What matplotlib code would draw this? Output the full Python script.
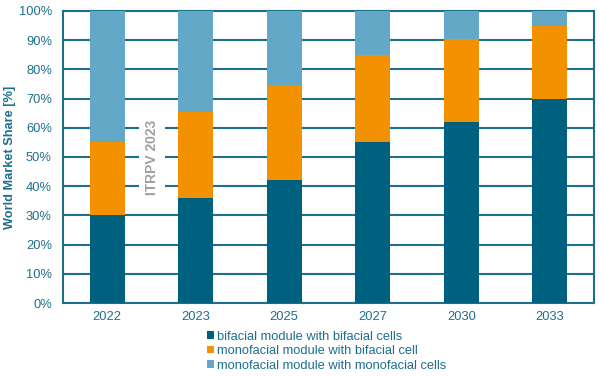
import matplotlib
matplotlib.use("Agg")
import matplotlib.pyplot as plt
import numpy as np

years = ["2022", "2023", "2025", "2027", "2030", "2033"]
bifacial_bifacial = [30, 36, 42, 55, 62, 70]
monofacial_bifacial = [25, 29.5, 32.5, 30, 28.5, 25]
monofacial_monofacial = [45, 34.5, 25.5, 15, 9.5, 5]
labels = ["bifacial module with bifacial cells",
          "monofacial module with bifacial cell",
          "monofacial module with monofacial cells"]
colors = ["#00617f", "#f39100", "#64a8c8"]
teal = "#1d6f8c"

plt.rcParams['font.family'] = ['Liberation Sans', 'DejaVu Sans']

fig = plt.figure(figsize=(6, 3.76), dpi=100)
ax = fig.add_axes([0.105, 0.194, 0.885, 0.777])

x = np.arange(len(years))
w = 0.39
b1 = np.array(bifacial_bifacial)
b2 = np.array(monofacial_bifacial)
b3 = np.array(monofacial_monofacial)
h1 = ax.bar(x, b1, w, color=colors[0], zorder=3, label=labels[0])
h2 = ax.bar(x, b2, w, bottom=b1, color=colors[1], zorder=3, label=labels[1])
h3 = ax.bar(x, b3, w, bottom=b1 + b2, color=colors[2], zorder=3, label=labels[2])

ax.set_xlim(-0.5, len(years) - 0.5)
ax.set_ylim(0, 100)
ax.set_yticks(np.arange(0, 101, 10))
ax.set_yticklabels([f"{v}%" for v in range(0, 101, 10)])
ax.set_xticks(x)
ax.set_xticklabels(years)
ax.yaxis.grid(True, color=teal, linewidth=1.5, zorder=0)
ax.set_axisbelow(True)
for s in ax.spines.values():
    s.set_color(teal)
    s.set_linewidth(1.5)
ax.tick_params(axis='both', length=0, colors=teal, labelsize=9.3)
ax.tick_params(axis='y', pad=8)
ax.tick_params(axis='x', pad=6)
ax.set_ylabel("World Market Share [%]", color=teal, fontsize=9.2, fontweight='bold', labelpad=2)

ax.text(0.506, 50, "ITRPV 2023", rotation=90, ha='center', va='center',
        color='#a0a0a0', fontsize=10, fontweight='bold', zorder=4,
        bbox=dict(facecolor='white', edgecolor='none', pad=4))

fig.legend(handles=[h1, h2, h3], loc='upper left', bbox_to_anchor=(0.345, 0.121),
           frameon=False, fontsize=9.3, labelcolor=teal, handlelength=0.55,
           handleheight=0.55, handletextpad=0.2, labelspacing=0.2,
           borderaxespad=0, borderpad=0)

fig.savefig("out.png", dpi=100)
